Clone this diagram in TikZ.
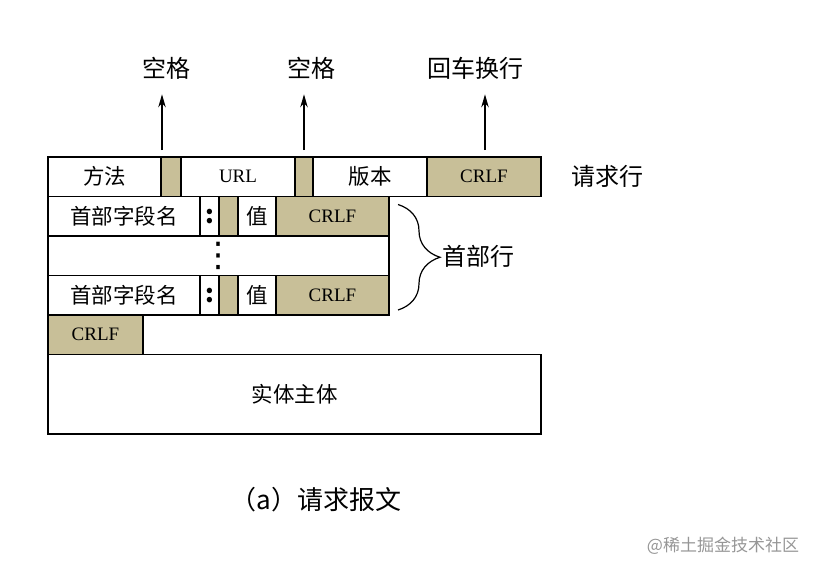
\documentclass[tikz,border=0pt]{standalone}
\usepackage{fontspec}
\setmainfont{Noto Sans CJK SC}
\newfontfamily\latinserif{Liberation Serif}
\newfontfamily\symfont{DejaVu Sans}
\usetikzlibrary{arrows.meta, positioning, decorations.pathreplacing, calc}
\definecolor{crlfgray}{RGB}{200,191,152}
\definecolor{markgray}{RGB}{150,150,150}
\newcommand{\fs}[1]{\fontsize{#1}{#1}\selectfont}

\begin{document}
\begin{tikzpicture}[x=1pt, y=-1pt,
    cell/.style={draw, line width=1.2pt, minimum height=39.5pt, inner sep=0pt,
                 outer sep=0pt, font=\fs{21.5}},
    gapcell/.style={cell, fill=crlfgray},
    crlfcell/.style={cell, fill=crlfgray, font=\latinserif\fs{19}},
    latcell/.style={cell, font=\latinserif\fs{19}},
    coloncell/.style={cell, font=\bfseries\fs{25}},
    lbl/.style={inner sep=0pt, font=\fs{24}},
    arr/.style={-{Stealth[length=13pt, width=7.5pt]}, line width=1.2pt, shorten >=15pt},
    brace/.style={decorate, decoration={brace, amplitude=42pt}, line width=1.2pt}
]
\useasboundingbox (0,0) rectangle (818,574);
% request line
\node[cell, anchor=north west, minimum width=113pt] (method) at (48,157) {方法};
\node[gapcell, right=0pt of method, minimum width=20pt] (sp1) {};
\node[latcell, right=0pt of sp1, minimum width=114pt] (url) {URL};
\node[gapcell, right=0pt of url, minimum width=18pt] (sp2) {};
\node[cell, right=0pt of sp2, minimum width=114pt] (version) {版本};
\node[crlfcell, right=0pt of version, minimum width=114pt] (crlf1) {CRLF};
\node[lbl, right=30pt of crlf1] (reqlbl) {请求行};
% header lines
\node[cell, anchor=north west, minimum width=152pt] (name1) at (method.south west) {首部字段名};
\node[coloncell, right=0pt of name1, minimum width=19pt] (colon1) {:};
\node[gapcell, right=0pt of colon1, minimum width=19pt] (gap1) {};
\node[cell, right=0pt of gap1, minimum width=38pt] (value1) {值};
\node[crlfcell, right=0pt of value1, minimum width=113pt] (crlf2) {CRLF};
\node[cell, anchor=north west, minimum width=341pt, font=\symfont\fs{34}] (dots) at (name1.south west) {⋮};
\node[cell, anchor=north west, minimum width=152pt] (name2) at (dots.south west) {首部字段名};
\node[coloncell, right=0pt of name2, minimum width=19pt] (colon2) {:};
\node[gapcell, right=0pt of colon2, minimum width=19pt] (gap2) {};
\node[cell, right=0pt of gap2, minimum width=38pt] (value2) {值};
\node[crlfcell, right=0pt of value2, minimum width=113pt] (crlf3) {CRLF};
% empty line and body
\node[crlfcell, anchor=north west, minimum width=95pt] (crlf4) at (name2.south west) {CRLF};
\node[cell, anchor=north west, minimum width=493pt, minimum height=79.5pt] (body) at (crlf4.south west) {实体主体};

\coordinate (btop) at ($(crlf2.north east)+(9,8)$);
\coordinate (bbot) at ($(crlf3.south east)+(9,-5)$);
\draw[brace] (btop) -- (bbot);
\node[lbl] (hdrlbl) at (478,256) {首部行};

% labels above
\node[lbl] (sp1lbl) at (166,68) {空格};
\node[lbl] (sp2lbl) at (311,68) {空格};
\node[lbl] (crlflbl) at (475,68) {回车换行};
\coordinate (a1) at ($(sp1.north west)+(1,-7)$);
\coordinate (a2) at ($(sp2.north)+(0,-7)$);
\coordinate (a3) at ($(crlf1.north)+(1,-7)$);
\draw[arr] (a1) -- (a1 |- sp1lbl.south);
\draw[arr] (a2) -- (a2 |- sp2lbl.south);
\draw[arr] (a3) -- (a3 |- crlflbl.south);

\node[font=\fs{26}] (caption) at (316,500) {（a）请求报文};
\node[font=\fs{17}, text=markgray] (mark) at (723,546) {@稀土掘金技术社区};
\end{tikzpicture}
\end{document}
